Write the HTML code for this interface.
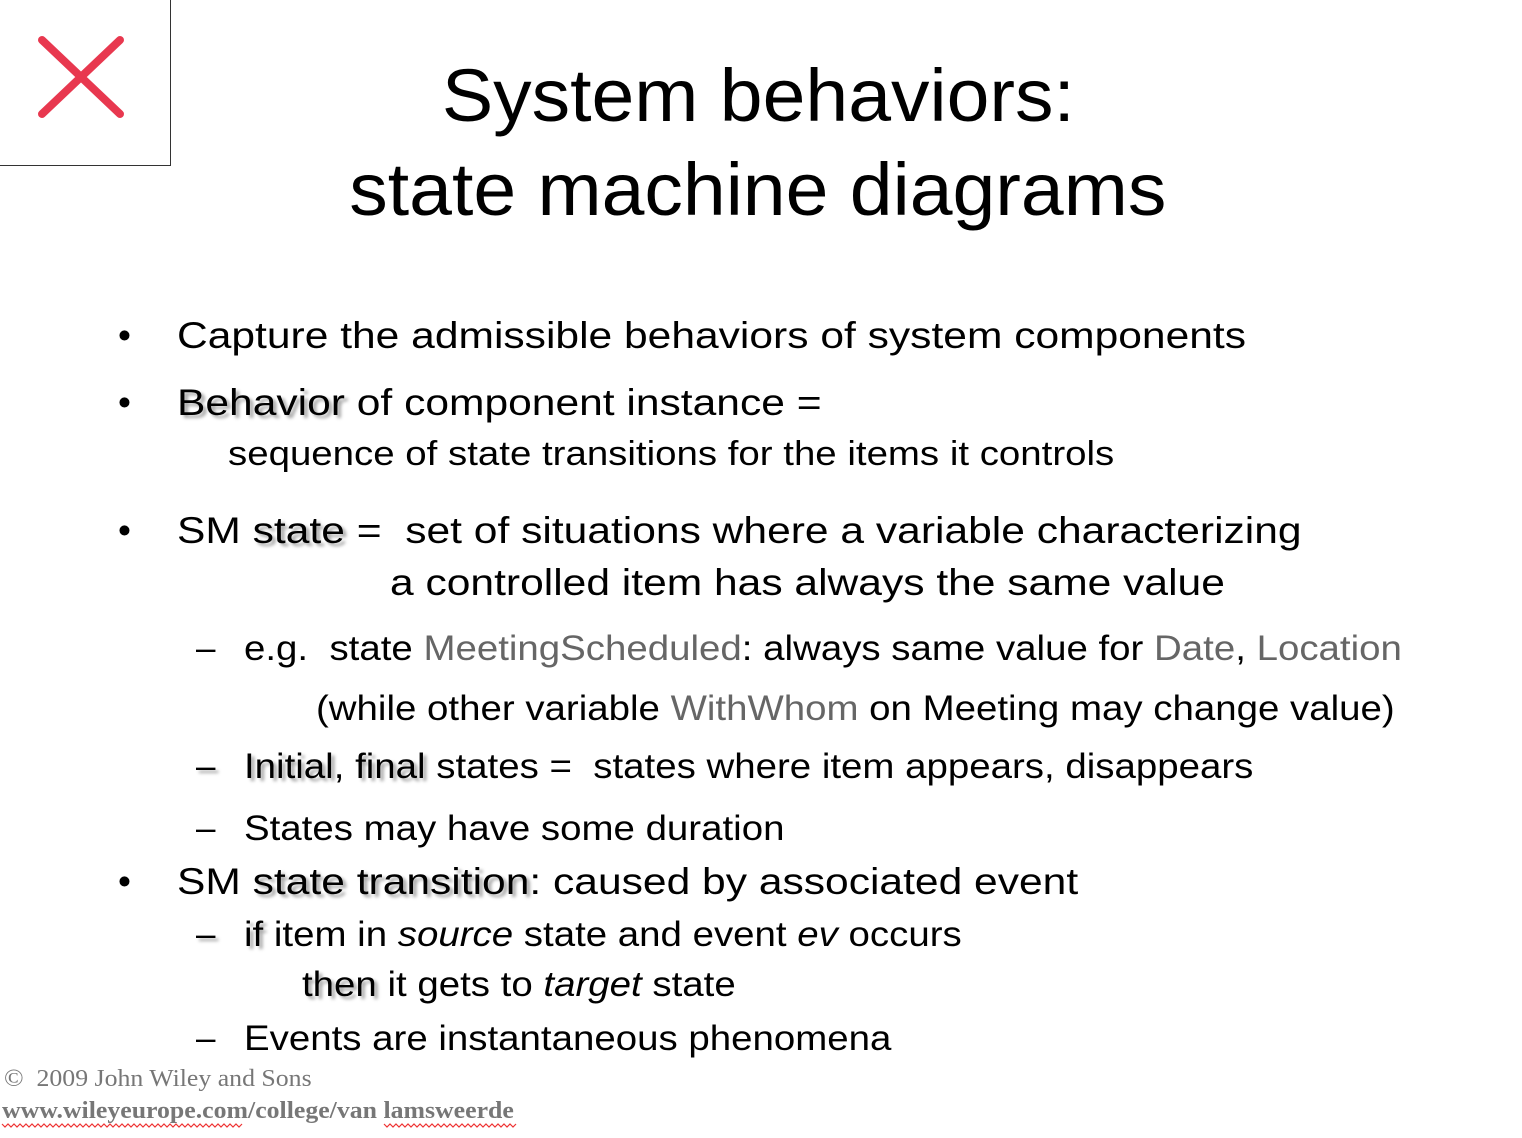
<!DOCTYPE html>
<html><head><meta charset="utf-8"><style>
body{margin:0;width:1522px;height:1138px;background:#fff;position:relative;overflow:hidden;font-family:"Liberation Sans",Arial,sans-serif;color:#000}
.t{position:absolute;white-space:nowrap;line-height:1;transform-origin:0 0}
.a{transform:scaleX(1.15)}
.b{transform:scaleX(1.098)}
.s{text-shadow:3px 3px 3px rgba(0,0,0,0.35)}
.g{color:#666}
.f{font-family:"Liberation Serif",serif;color:#777;font-size:24px;transform:scaleX(1.075)}
</style></head><body>
<div style="position:absolute;left:-1px;top:-1px;width:172px;height:167px;border:1px solid #333;box-sizing:border-box"></div>
<svg style="position:absolute;left:0;top:0" width="170" height="165"><path d="M42 40 L120 114 M120 40 L42 114" stroke="#e8384f" stroke-width="8" stroke-linecap="round"/></svg>
<div class="t" style="left:0;width:1516px;text-align:center;top:49px;font-size:74px;line-height:94px"><span style="display:inline-block;transform:scaleX(1.04)">System behaviors:</span><br><span style="display:inline-block;transform:scaleX(1.04)">state machine diagrams</span></div>

<div class="t" style="left:118px;top:317px;font-size:37px">•</div>
<div class="t a" style="left:177px;top:317px;font-size:37px">Capture the admissible behaviors of system components</div>
<div class="t" style="left:118px;top:384px;font-size:37px">•</div>
<div class="t a" style="left:177px;top:384px;font-size:37px"><span class="s">Behavior</span> of component instance =</div>
<div class="t" style="left:228px;top:437px;font-size:34px;transform:scaleX(1.13)">sequence of state transitions for the items it controls</div>
<div class="t" style="left:118px;top:512px;font-size:37px">•</div>
<div class="t a" style="left:177px;top:512px;font-size:37px">SM <span class="s">state</span> =&nbsp; set of situations where a variable characterizing</div>
<div class="t a" style="left:390px;top:564px;font-size:37px">a controlled item has always the same value</div>

<div class="t" style="left:196px;top:631px;font-size:35px">–</div>
<div class="t b" style="left:244px;top:631px;font-size:35px">e.g.&nbsp; state <span class="g">MeetingScheduled</span>: always same value for <span class="g">Date</span>, <span class="g">Location</span></div>
<div class="t b" style="left:316px;top:691px;font-size:35px">(while other variable <span class="g">WithWhom</span> on Meeting may change value)</div>
<div class="t s" style="left:196px;top:749px;font-size:35px">–</div>
<div class="t b" style="left:244px;top:749px;font-size:35px"><span class="s">Initial</span>, <span class="s">final</span> states =&nbsp; states where item appears, disappears</div>
<div class="t" style="left:196px;top:811px;font-size:35px">–</div>
<div class="t b" style="left:244px;top:811px;font-size:35px">States may have some duration</div>
<div class="t" style="left:118px;top:863px;font-size:37px">•</div>
<div class="t a" style="left:177px;top:863px;font-size:37px">SM <span class="s">state transition</span>: caused by associated event</div>
<div class="t s" style="left:196px;top:917px;font-size:35px">–</div>
<div class="t b" style="left:244px;top:917px;font-size:35px"><span class="s">if</span> item in <i>source</i> state and event <i>ev</i> occurs</div>
<div class="t b" style="left:302px;top:967px;font-size:35px"><span class="s">then</span> it gets to <i>target</i> state</div>
<div class="t" style="left:196px;top:1021px;font-size:35px">–</div>
<div class="t b" style="left:244px;top:1021px;font-size:35px">Events are instantaneous phenomena</div>

<div class="t f" style="left:4px;top:1067px">©&nbsp; 2009 John Wiley and Sons</div>
<div class="t f" style="left:2px;top:1099px;font-weight:bold">www.wileyeurope.com/college/van lamsweerde</div>
<svg style="position:absolute;left:0;top:1122px" width="520" height="8"><polyline fill="none" stroke="#e33" stroke-width="1.2" points="2,2 5,5 8,2 11,5 14,2 17,5 20,2 23,5 26,2 29,5 32,2 35,5 38,2 41,5 44,2 47,5 50,2 53,5 56,2 59,5 62,2 65,5 68,2 71,5 74,2 77,5 80,2 83,5 86,2 89,5 92,2 95,5 98,2 101,5 104,2 107,5 110,2 113,5 116,2 119,5 122,2 125,5 128,2 131,5 134,2 137,5 140,2 143,5 146,2 149,5 152,2 155,5 158,2 161,5 164,2 167,5 170,2 173,5 176,2 179,5 182,2 185,5 188,2 191,5 194,2 197,5 200,2 203,5 206,2 209,5 212,2 215,5 218,2 221,5 224,2 227,5 230,2 233,5 236,2 239,5 242,2"/><polyline fill="none" stroke="#e33" stroke-width="1.2" points="384,2 387,5 390,2 393,5 396,2 399,5 402,2 405,5 408,2 411,5 414,2 417,5 420,2 423,5 426,2 429,5 432,2 435,5 438,2 441,5 444,2 447,5 450,2 453,5 456,2 459,5 462,2 465,5 468,2 471,5 474,2 477,5 480,2 483,5 486,2 489,5 492,2 495,5 498,2 501,5 504,2 507,5 510,2 513,5 516,2"/></svg>
</body></html>
